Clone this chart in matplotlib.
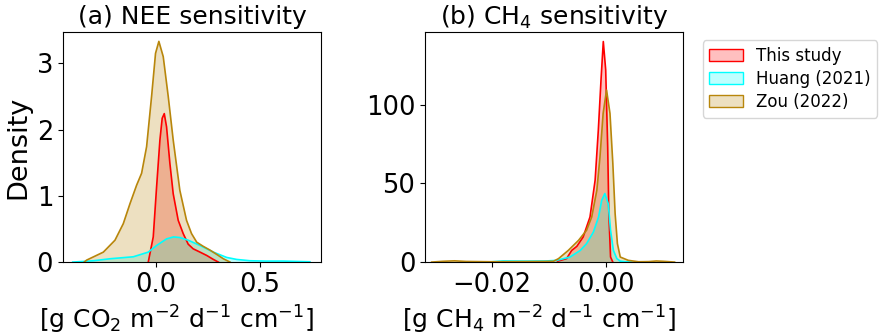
import matplotlib
matplotlib.use("Agg")
import matplotlib.pyplot as plt
from matplotlib.colors import to_rgba
from matplotlib.patches import Patch

# Density curves, (a) NEE sensitivity
nee_this_x = [-0.037, -0.013, 0.003, 0.019, 0.030, 0.040, 0.051, 0.067, 0.083, 0.107, 0.131, 0.155, 0.179,
              0.212, 0.244, 0.276, 0.30]
nee_this_y = [0.0, 0.38, 1.13, 1.84, 2.17, 2.24, 2.04, 1.49, 1.03, 0.63, 0.43, 0.27, 0.20,
              0.15, 0.10, 0.04, 0.0]
nee_huang_x = [-0.40, -0.30, -0.221, -0.109, -0.037, 0.003, 0.051, 0.085, 0.115, 0.155, 0.212, 0.276, 0.34,
               0.388, 0.452, 0.53, 0.612, 0.74]
nee_huang_y = [0.0, 0.02, 0.05, 0.08, 0.15, 0.25, 0.35, 0.38, 0.37, 0.33, 0.25, 0.15, 0.07,
               0.04, 0.02, 0.015, 0.015, 0.005]
nee_zou_x = [-0.345, -0.333, -0.253, -0.197, -0.157, -0.125, -0.093, -0.069, -0.045, -0.021, -0.002, 0.014,
             0.035, 0.059, 0.083, 0.115, 0.147, 0.171, 0.196, 0.226, 0.26, 0.295, 0.324, 0.356]
nee_zou_y = [0.0, 0.03, 0.15, 0.33, 0.58, 0.88, 1.16, 1.34, 1.74, 2.50, 3.15, 3.33,
             3.10, 2.50, 1.84, 1.08, 0.63, 0.43, 0.30, 0.24, 0.18, 0.11, 0.05, 0.0]

# (b) CH4 sensitivity
ch4_this_x = [-0.0085, -0.0069, -0.0060, -0.0051, -0.0040, -0.0028, -0.0019, -0.00134, -0.00087, -0.00047,
              -0.00005, 0.0003, 0.0005, 0.0008, 0.0012]
ch4_this_y = [0.5, 2.2, 7.4, 10.0, 15.9, 28.6, 52.0, 83.8, 115.6, 140.0,
              122.0, 73.0, 30.8, 3.2, 0.0]
ch4_huang_x = [-0.0207, -0.018, -0.014, -0.0105, -0.0086, -0.0063, -0.0045, -0.0034, -0.0022, -0.0013,
               -0.00075, -0.0002, 0.0004, 0.0008, 0.0013, 0.0019, 0.0025, 0.0035, 0.0045]
ch4_huang_y = [0.0, 0.7, 0.6, 0.7, 1.1, 3.2, 7.4, 11.7, 19.1, 28.6,
               39.2, 43.5, 37.0, 20.2, 7.4, 2.2, 0.6, 0.2, 0.0]
ch4_zou_x = [-0.0305, -0.0285, -0.0265, -0.0245, -0.020, -0.015, -0.0110, -0.0092, -0.0083, -0.0066, -0.0048,
             -0.0034, -0.0025, -0.0016, -0.00105, -0.0005, 0.0001, 0.0007, 0.0012, 0.0016, 0.0020, 0.0025,
             0.0039, 0.0057, 0.0075, 0.0088, 0.0100, 0.0120]
ch4_zou_y = [0.0, 0.5, 0.8, 0.4, 0.2, 0.3, 0.4, 0.5, 2.2, 7.4, 13.8,
             20.2, 28.6, 45.6, 66.8, 94.4, 109.2, 94.4, 62.6, 30.8, 11.7, 3.2,
             1.1, 0.2, 0.3, 0.7, 0.5, 0.0]

labels = ["This study", "Huang (2021)", "Zou (2022)"]
colors = ["red", "cyan", "darkgoldenrod"]


def kde_fill(ax, x, y, color):
    ax.fill_between(x, y, facecolor=to_rgba(color, 0.25), edgecolor="none")
    ax.plot(x, y, color=color, lw=1.2)


fig = plt.figure(figsize=(8.88, 3.36), dpi=100)
ax1 = fig.add_axes([0.0709, 0.220, 0.2905, 0.6845])
ax2 = fig.add_axes([0.4786, 0.220, 0.2905, 0.6845])

for (x, y), c in zip([(nee_this_x, nee_this_y), (nee_huang_x, nee_huang_y), (nee_zou_x, nee_zou_y)], colors):
    kde_fill(ax1, x, y, c)
for (x, y), c in zip([(ch4_this_x, ch4_this_y), (ch4_huang_x, ch4_huang_y), (ch4_zou_x, ch4_zou_y)], colors):
    kde_fill(ax2, x, y, c)

ax1.set_xlim(-0.447, 0.793)
ax1.set_ylim(0, 3.47)
ax1.set_xticks([0.0, 0.5])
ax1.set_yticks([0, 1, 2, 3])
ax1.set_title("(a) NEE sensitivity", fontsize=18)
ax1.set_ylabel("Density", fontsize=19.5)
ax1.set_xlabel(r"[g CO$_2$ m$^{-2}$ d$^{-1}$ cm$^{-1}$]", fontsize=18, x=0.44)

ax2.set_xlim(-0.03167, 0.01347)
ax2.set_ylim(0, 146)
ax2.set_xticks([-0.02, 0.0])
ax2.set_yticks([0, 50, 100])
ax2.set_title(r"(b) CH$_4$ sensitivity", fontsize=18)
ax2.set_xlabel(r"[g CH$_4$ m$^{-2}$ d$^{-1}$ cm$^{-1}$]", fontsize=18, x=0.44)

for ax in (ax1, ax2):
    ax.tick_params(labelsize=18.5)

handles = [Patch(facecolor=to_rgba(c, 0.25), edgecolor=c, label=l) for c, l in zip(colors, labels)]
fig.legend(handles=handles, loc="upper left", bbox_to_anchor=(0.782, 0.905), fontsize=12,
           labelspacing=0.3)

fig.savefig("out.png", dpi=100)
